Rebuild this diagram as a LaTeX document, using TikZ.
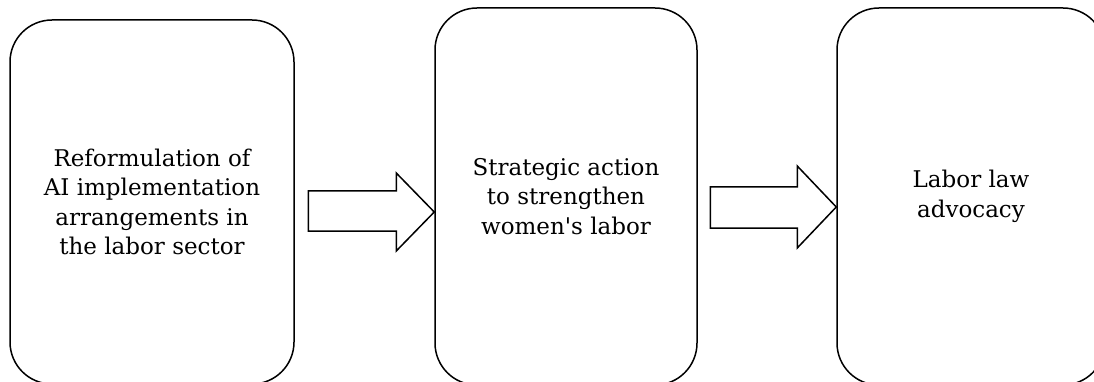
\documentclass[tikz,border=0pt]{standalone}
\usepackage{fontspec}
\setmainfont{DejaVu Serif}
\begin{document}
\begin{tikzpicture}[x=1pt,y=-1pt,
  stagebox/.style={draw=black, line width=1.5pt, rounded corners=42pt, align=center,
    font=\fontsize{23}{29.5}\selectfont, inner sep=0pt},
  bigarrow/.style={draw=black, line width=1.5pt, fill=white, line join=miter}]
\useasboundingbox (0,0) rectangle (1094,382);
\clip (0,0) rectangle (1094,382);
\node[stagebox, minimum width=284pt, minimum height=364pt] (b1) at (152,202)
  {Reformulation of\\AI implementation\\arrangements in\\the labor sector};
\node[stagebox, minimum width=262pt, minimum height=377pt] (b2) at (566,196.5)
  {Strategic action\\to strengthen\\women\textquotesingle s labor};
\node[stagebox, minimum width=268pt, minimum height=377pt] (b3) at (971,196.5)
  {Labor law\\advocacy};
\coordinate (t1) at ([yshift=-15.5pt]b2.west);
\coordinate (t2) at ([yshift=-10.5pt]b3.west);
\draw[bigarrow] (t1) -- ++(-38,-39) -- ++(0,18) -- ++(-88,0) -- ++(0,40) -- ++(88,0) -- ++(0,20) -- cycle;
\draw[bigarrow] (t2) -- ++(-39,-41) -- ++(0,21) -- ++(-87,0) -- ++(0,41) -- ++(87,0) -- ++(0,20) -- cycle;
\end{tikzpicture}
\end{document}
